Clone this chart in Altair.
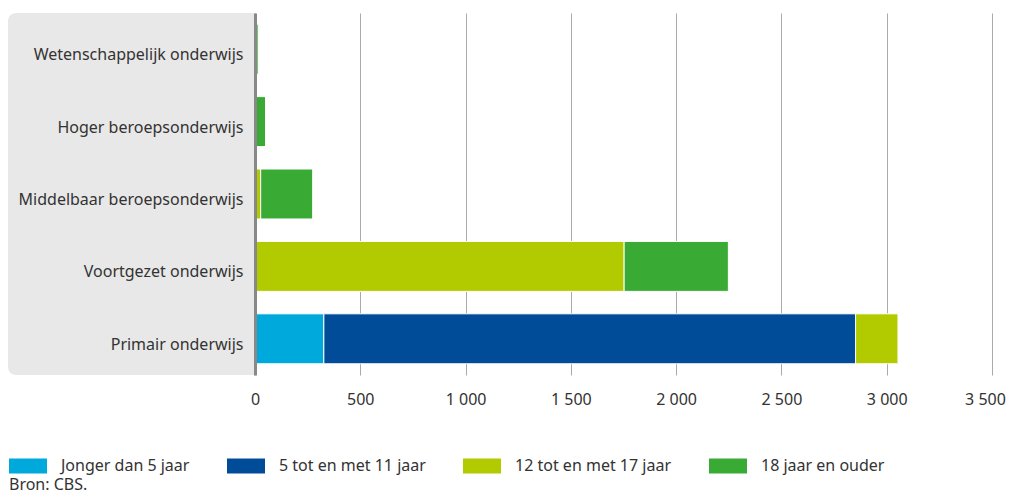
import altair as alt
import pandas as pd

categories = [
    "Wetenschappelijk onderwijs",
    "Hoger beroepsonderwijs",
    "Middelbaar beroepsonderwijs",
    "Voortgezet onderwijs",
    "Primair onderwijs",
]
age_groups = ["Jonger dan 5 jaar", "5 tot en met 11 jaar", "12 tot en met 17 jaar", "18 jaar en ouder"]
jonger_dan_5 = [0, 0, 0, 0, 327]
tot_11 = [0, 0, 0, 0, 2525]
tot_17 = [0, 0, 27, 1753, 203]
ouder_18 = [15, 50, 247, 495, 0]
colors = ["#00a9dc", "#004c99", "#b2cb00", "#39ab35"]
x_ticks = [0, 500, 1000, 1500, 2000, 2500, 3000, 3500]
source_text = "Bron: CBS."

series = [jonger_dan_5, tot_11, tot_17, ouder_18]
rows = []
for gi, (g, vals) in enumerate(zip(age_groups, series)):
    for c, v in zip(categories, vals):
        rows.append({"category": c, "group": g, "value": v, "idx": gi})
df = pd.DataFrame(rows)

W, H = 737, 362
FONT = "Noto Sans"
TXT = "#333333"
FS = 16

panel = alt.Chart(pd.DataFrame({"a": [0]})).mark_rect(
    color="#e8e8e8", cornerRadiusTopLeft=8, cornerRadiusBottomLeft=8
).encode(x=alt.value(-247), x2=alt.value(0), y=alt.value(0), y2=alt.value(H))

bars = alt.Chart(df).mark_bar(stroke="white", strokeWidth=1).encode(
    x=alt.X(
        "value:Q",
        stack="zero",
        scale=alt.Scale(domain=[0, 3500], nice=False),
        axis=alt.Axis(
            values=x_ticks, title=None, grid=True, gridColor="#aaaaaa", gridWidth=1,
            domain=False, ticks=False, labelPadding=16, labelFontSize=FS, labelColor=TXT,
            labelFlush=False,
            labelOffset={"condition": {"test": "datum.value == 3500", "value": -7}, "value": 0},
            labelExpr="replace(format(datum.value, ','), ',', ' ')",
        ),
    ),
    y=alt.Y(
        "category:N",
        sort=categories,
        scale=alt.Scale(paddingInner=0.31),
        axis=alt.Axis(
            title=None, ticks=False, domainColor="#888888", domainWidth=3,
            labelPadding=12, labelFontSize=FS, labelColor=TXT, labelOffset=6,
            minExtent=247, maxExtent=247, zindex=1, labelLimit=260,
        ),
    ),
    color=alt.Color(
        "group:N",
        scale=alt.Scale(domain=age_groups, range=colors),
        legend=alt.Legend(
            title=None, orient="none", legendX=-246, legendY=434, direction="horizontal",
            symbolType="M-1,-0.4H1V0.4H-1Z", symbolSize=1444, symbolStrokeWidth=0,
            symbolOpacity=1, labelFontSize=FS, labelColor=TXT, labelOffset=14,
            columnPadding=37, padding=0,
        ),
    ),
    order=alt.Order("idx:Q"),
)

source = alt.Chart(pd.DataFrame({"a": [0]})).mark_text(
    text=source_text, align="left", baseline="middle", fontSize=FS, color=TXT
).encode(x=alt.value(-246), y=alt.value(472))

chart = alt.layer(panel, bars, source).properties(
    width=W, height=H, padding={"left": 0, "top": 5, "right": 0, "bottom": 4}
).configure(font=FONT).configure_view(stroke=None)

chart.save("out.html", embed_options={"renderer": "svg", "actions": False})
